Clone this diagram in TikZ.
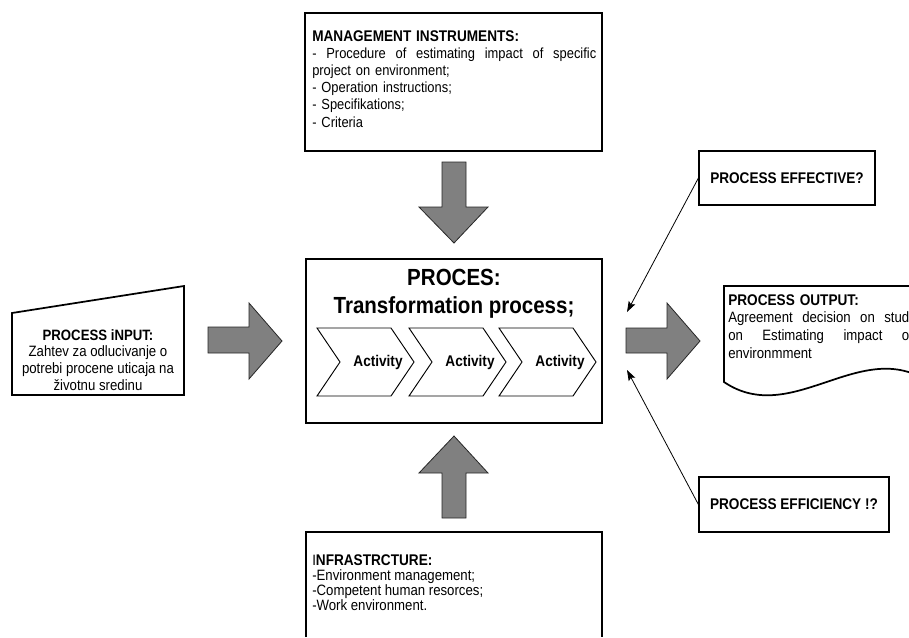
\documentclass[tikz,border=0pt]{standalone}
\usepackage{fontspec}
\setmainfont{Liberation Sans}[FakeStretch=0.88]
\usetikzlibrary{arrows.meta,calc}
\definecolor{arrowgray}{HTML}{808080}
\begin{document}
\begin{tikzpicture}[x=0.75pt,y=-0.75pt,
  box/.style={draw=black,line width=1.3pt,fill=white,inner sep=0pt},
  qbox/.style={draw=black,line width=0.9pt,fill=white,inner sep=0pt,font=\fontsize{11.6}{12}\selectfont\bfseries},
  fat/.style={fill=arrowgray,draw=black!85,line width=0.6pt,line join=miter},
  chev/.style={draw=black,line width=0.7pt,fill=white,line join=miter},
  smalltxt/.style={inner sep=0pt,align=left,font=\fontsize{11}{12.9}\selectfont},
  acttxt/.style={inner sep=0pt,font=\fontsize{11.6}{12}\selectfont\bfseries},
  conn/.style={draw=black,line width=0.6pt,-{Stealth[length=8pt,width=5.5pt,inset=1.5pt]}}]
\useasboundingbox (0,0) rectangle (909,637);

% management instruments
\node[box,minimum width=222.75pt,minimum height=103.5pt] (mgmt) at (453.5,82) {};
\node[smalltxt,anchor=north west,text width=213.75pt] (mgmttxt) at (312,30)
 {{\fontsize{11.6}{12.9}\selectfont\bfseries MANAGEMENT INSTRUMENTS:}\\
  \leavevmode\hbox to 213pt{-\hfill Procedure\hfill of\hfill estimating\hfill impact\hfill of\hfill specific}\\
  project on environment;\\
  - Operation instructions;\\
  - Specifikations;\\
  - Criteria};

% process box
\node[box,line width=1.5pt,minimum width=222pt,minimum height=123pt] (proc) at (454,341) {};
\node[inner sep=0pt,align=center,anchor=north,font=\fontsize{17.5}{21}\selectfont\bfseries] (proctxt) at (454,269)
 {PROCES:\\Transformation process;};

% chevrons
\foreach \L/\n in {317/1,409/2,499/3}{
  \draw[chev] (\L,328) -- (\L+74,328) -- (\L+97,362) -- (\L+74,396) -- (\L,396) -- (\L+23,362) -- cycle;
  \node[acttxt] (act\n) at (\L+61,362) {Activity};
}

% big arrows
\draw[fat] (442,162) -- (466,162) -- (466,207) -- (488,207) -- (454,243) -- (419,207) -- (442,207) -- cycle;
\draw[fat] (442,518) -- (466,518) -- (466,473) -- (488,473) -- (454,436) -- (419,473) -- (442,473) -- cycle;
\draw[fat] (208,327) -- (249,327) -- (249,303) -- (282,341) -- (249,379) -- (249,353) -- (208,353) -- cycle;
\draw[fat] (626,328) -- (667,328) -- (667,303) -- (700,341) -- (667,379) -- (667,353) -- (626,353) -- cycle;

% process input (manual input shape)
\draw[box] (12,313) -- (184,286) -- (184,395) -- (12,395) -- cycle;
\node[inner sep=0pt,align=center,anchor=north,font=\fontsize{11.25}{12.5}\selectfont] (input) at (98,329)
 {{\bfseries PROCESS iNPUT:}\\Zahtev za odlucivanje o\\potrebi procene uticaja na\\životnu sredinu};

% infrastructure (box runs past the lower edge)
\draw[box] (306,637) -- (306,532) -- (602,532) -- (602,637);
\node[smalltxt,anchor=north west,font=\fontsize{11.25}{11.25}\selectfont] (infra) at (312,554)
 {I{\fontsize{11.6}{11.25}\selectfont\bfseries NFRASTRCTURE:}\\
  -Environment management;\\
  -Competent human resorces;\\
  -Work environment.};

% process output (document shape running past the right edge)
\begin{scope}
  \clip (0,0) rectangle (909,637);
  \draw[box,line join=miter] (929,286) -- (724,286) -- (724,382)
     .. controls (792,428) and (861,336) .. (929,382);
\end{scope}
\node[smalltxt,anchor=north west,text width=135.75pt,font=\fontsize{11.25}{13.3}\selectfont] (output) at (728,294)
 {{\fontsize{11.6}{13.3}\selectfont\bfseries PROCESS OUTPUT:}\\
  \leavevmode\hbox to 135.75pt{Agreement\hfill decision\hfill on\hfill stud}\\
  \leavevmode\hbox to 135.75pt{on\hfill Estimating\hfill impact\hfill o}\\
  environmment};

% questions
\node[qbox,minimum width=132pt,minimum height=40.5pt] (eff) at (787,178) {PROCESS EFFECTIVE?};
\node[qbox,minimum width=142.5pt,minimum height=41.25pt] (effc) at (794,504.5) {PROCESS EFFICIENCY !?};
\coordinate (tipA) at (627,312);
\coordinate (tipB) at (627,370);
\draw[conn] (eff.west) -- (tipA);
\draw[conn] (effc.west) -- (tipB);
\end{tikzpicture}
\end{document}
